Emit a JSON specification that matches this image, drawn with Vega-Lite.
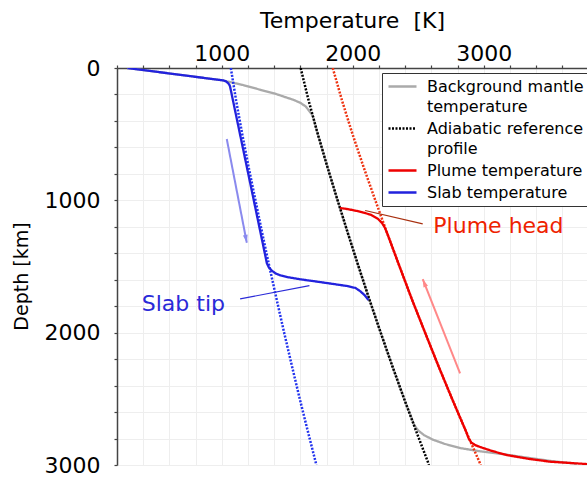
{
  "$schema": "https://vega.github.io/schema/vega-lite/v6.json",
  "autosize": {"type": "none"},
  "padding": {"left": 117, "top": 68, "right": 0, "bottom": 12},
  "width": 470,
  "height": 397,
  "background": "white",
  "config": {
    "font": "DejaVu Sans",
    "view": {"stroke": null},
    "axis": {
      "domainColor": "#444444", "domainWidth": 1.5,
      "tickColor": "#444444", "tickWidth": 1.2, "tickSize": 3,
      "labelFont": "DejaVu Sans", "labelFontSize": 22, "labelColor": "black",
      "titleFont": "DejaVu Sans", "titleFontWeight": "normal", "titleColor": "black",
      "gridColor": "#eeeeee", "gridWidth": 1
    },
    "legend": {
      "orient": "none", "legendX": 265, "legendY": 5,
      "symbolType": "M-2,0L2,0", "symbolSize": 196, "symbolStrokeWidth": 2.5,
      "labelFont": "DejaVu Sans", "labelFontSize": 16, "labelColor": "black", "labelOffset": 16, "labelLimit": 400,
      "padding": 5, "rowPadding": 5, "symbolOffset": 7,
      "strokeColor": "#333333", "fillColor": "white", "cornerRadius": 0
    }
  },
  "encoding": {
    "x": {
      "field": "T", "type": "quantitative",
      "scale": {"domain": [200, 3788], "nice": false, "zero": false},
      "axis": {
        "orient": "top", "title": "Temperature \u00a0[K]", "titleFontSize": 22, "titlePadding": 10,
        "values": [200, 400, 600, 800, 1000, 1200, 1400, 1600, 1800, 2000, 2200, 2400, 2600, 2800, 3000, 3200, 3400, 3600],
        "format": "d", "labelExpr": "datum.value % 1000 == 0 ? datum.label : ''",
        "labelPadding": 0, "grid": true
      }
    },
    "y": {
      "field": "d", "type": "quantitative",
      "scale": {"domain": [0, 3000], "reverse": true, "nice": false, "zero": false},
      "axis": {
        "title": "Depth [km]", "titleFontSize": 19, "titlePadding": 13, "titleY": 208,
        "values": [0, 200, 400, 600, 800, 1000, 1200, 1400, 1600, 1800, 2000, 2200, 2400, 2600, 2800, 3000],
        "format": "d", "labelExpr": "datum.value % 1000 == 0 ? datum.label : ''",
        "labelPadding": 14, "grid": true
      }
    }
  },
  "layer": [
    {
      "data": {"values": [
        {"series": "Background mantle temperature", "T": 279, "d": 0},
        {"series": "Background mantle temperature", "T": 1012, "d": 94},
        {"series": "Background mantle temperature", "T": 1038, "d": 101},
        {"series": "Background mantle temperature", "T": 1160, "d": 128},
        {"series": "Background mantle temperature", "T": 1292, "d": 164},
        {"series": "Background mantle temperature", "T": 1400, "d": 192},
        {"series": "Background mantle temperature", "T": 1470, "d": 215},
        {"series": "Background mantle temperature", "T": 1540, "d": 238},
        {"series": "Background mantle temperature", "T": 1598, "d": 262},
        {"series": "Background mantle temperature", "T": 1640, "d": 290},
        {"series": "Background mantle temperature", "T": 1668, "d": 325},
        {"series": "Background mantle temperature", "T": 1694, "d": 360},
        {"series": "Background mantle temperature", "T": 1733, "d": 500},
        {"series": "Background mantle temperature", "T": 1807, "d": 750},
        {"series": "Background mantle temperature", "T": 1884, "d": 1000},
        {"series": "Background mantle temperature", "T": 1963, "d": 1250},
        {"series": "Background mantle temperature", "T": 2044, "d": 1500},
        {"series": "Background mantle temperature", "T": 2127, "d": 1750},
        {"series": "Background mantle temperature", "T": 2213, "d": 2000},
        {"series": "Background mantle temperature", "T": 2301, "d": 2250},
        {"series": "Background mantle temperature", "T": 2392, "d": 2500},
        {"series": "Background mantle temperature", "T": 2470, "d": 2700},
        {"series": "Background mantle temperature", "T": 2500, "d": 2740},
        {"series": "Background mantle temperature", "T": 2545, "d": 2775},
        {"series": "Background mantle temperature", "T": 2615, "d": 2810},
        {"series": "Background mantle temperature", "T": 2700, "d": 2840},
        {"series": "Background mantle temperature", "T": 2821, "d": 2872},
        {"series": "Background mantle temperature", "T": 2960, "d": 2895},
        {"series": "Background mantle temperature", "T": 3126, "d": 2915},
        {"series": "Background mantle temperature", "T": 3300, "d": 2940},
        {"series": "Background mantle temperature", "T": 3500, "d": 2968},
        {"series": "Background mantle temperature", "T": 3710, "d": 2991}
      ]},
      "mark": {"type": "line", "strokeWidth": 2.3, "clip": true},
      "encoding": {
        "order": {"field": "d", "type": "quantitative"},
        "color": {"field": "series", "type": "nominal",
          "scale": {"domain": ["Background mantle temperature", "Adiabatic reference profile", "Plume temperature", "Slab temperature"], "range": ["#aaaaaa", "#000000", "#ee0000", "#2222dd"]},
          "legend": {"title": null, "labelExpr": "datum.label == 'Background mantle temperature' ? ['Background mantle', 'temperature'] : datum.label == 'Adiabatic reference profile' ? ['Adiabatic reference', 'profile'] : datum.label", "encode": {"labels": {"update": {"lineHeight": {"value": 20}}}}}},
        "strokeDash": {"field": "series", "type": "nominal",
          "scale": {"domain": ["Background mantle temperature", "Adiabatic reference profile", "Plume temperature", "Slab temperature"], "range": [[1, 0], [2, 1.5], [1, 0], [1, 0]]},
          "legend": {"title": null, "labelExpr": "datum.label == 'Background mantle temperature' ? ['Background mantle', 'temperature'] : datum.label == 'Adiabatic reference profile' ? ['Adiabatic reference', 'profile'] : datum.label", "encode": {"labels": {"update": {"lineHeight": {"value": 20}}}}}}
      }
    },
    {
      "data": {"values": [
        {"series": "Adiabatic reference profile", "T": 1602, "d": 0},
        {"series": "Adiabatic reference profile", "T": 1664, "d": 250},
        {"series": "Adiabatic reference profile", "T": 1733, "d": 500},
        {"series": "Adiabatic reference profile", "T": 1807, "d": 750},
        {"series": "Adiabatic reference profile", "T": 1884, "d": 1000},
        {"series": "Adiabatic reference profile", "T": 1963, "d": 1250},
        {"series": "Adiabatic reference profile", "T": 2044, "d": 1500},
        {"series": "Adiabatic reference profile", "T": 2127, "d": 1750},
        {"series": "Adiabatic reference profile", "T": 2213, "d": 2000},
        {"series": "Adiabatic reference profile", "T": 2301, "d": 2250},
        {"series": "Adiabatic reference profile", "T": 2392, "d": 2500},
        {"series": "Adiabatic reference profile", "T": 2486, "d": 2750},
        {"series": "Adiabatic reference profile", "T": 2582, "d": 3000}
      ]},
      "mark": {"type": "line", "strokeWidth": 2.5, "strokeCap": "butt", "clip": true},
      "encoding": {
        "order": {"field": "d", "type": "quantitative"},
        "color": {"field": "series", "type": "nominal"},
        "strokeDash": {"field": "series", "type": "nominal"}
      }
    },
    {
      "data": {"values": [
        {"T": 1847, "d": 0}, {"T": 1919, "d": 250}, {"T": 1998, "d": 500}, {"T": 2083, "d": 750},
        {"T": 2172, "d": 1000}, {"T": 2263, "d": 1250}, {"T": 2357, "d": 1500}, {"T": 2452, "d": 1750},
        {"T": 2552, "d": 2000}, {"T": 2653, "d": 2250}, {"T": 2758, "d": 2500}, {"T": 2866, "d": 2750},
        {"T": 2977, "d": 3000}
      ]},
      "mark": {"type": "line", "strokeWidth": 2.5, "strokeDash": [2, 1.5], "color": "#ee3311", "clip": true},
      "encoding": {"order": {"field": "d", "type": "quantitative"}}
    },
    {
      "data": {"values": [
        {"T": 1069, "d": 0}, {"T": 1110, "d": 250}, {"T": 1156, "d": 500}, {"T": 1205, "d": 750},
        {"T": 1257, "d": 1000}, {"T": 1309, "d": 1250}, {"T": 1363, "d": 1500}, {"T": 1419, "d": 1750},
        {"T": 1476, "d": 2000}, {"T": 1535, "d": 2250}, {"T": 1595, "d": 2500}, {"T": 1658, "d": 2750},
        {"T": 1722, "d": 3000}
      ]},
      "mark": {"type": "line", "strokeWidth": 2.5, "strokeDash": [2, 1.5], "color": "#2233ee", "clip": true},
      "encoding": {"order": {"field": "d", "type": "quantitative"}}
    },
    {
      "data": {"values": [
        {"series": "Plume temperature", "T": 1903, "d": 1058},
        {"series": "Plume temperature", "T": 1960, "d": 1066},
        {"series": "Plume temperature", "T": 2020, "d": 1078},
        {"series": "Plume temperature", "T": 2080, "d": 1092},
        {"series": "Plume temperature", "T": 2140, "d": 1110},
        {"series": "Plume temperature", "T": 2190, "d": 1138},
        {"series": "Plume temperature", "T": 2222, "d": 1170},
        {"series": "Plume temperature", "T": 2244, "d": 1205},
        {"series": "Plume temperature", "T": 2263, "d": 1250},
        {"series": "Plume temperature", "T": 2357, "d": 1500},
        {"series": "Plume temperature", "T": 2452, "d": 1750},
        {"series": "Plume temperature", "T": 2552, "d": 2000},
        {"series": "Plume temperature", "T": 2653, "d": 2250},
        {"series": "Plume temperature", "T": 2758, "d": 2500},
        {"series": "Plume temperature", "T": 2866, "d": 2750},
        {"series": "Plume temperature", "T": 2885, "d": 2800},
        {"series": "Plume temperature", "T": 2905, "d": 2830},
        {"series": "Plume temperature", "T": 2935, "d": 2850},
        {"series": "Plume temperature", "T": 2972, "d": 2864},
        {"series": "Plume temperature", "T": 3060, "d": 2893},
        {"series": "Plume temperature", "T": 3176, "d": 2925},
        {"series": "Plume temperature", "T": 3340, "d": 2953},
        {"series": "Plume temperature", "T": 3506, "d": 2975},
        {"series": "Plume temperature", "T": 3789, "d": 2993},
        {"series": "Plume temperature", "T": 4000, "d": 3000}
      ]},
      "mark": {"type": "line", "strokeWidth": 2.3, "clip": true},
      "encoding": {
        "order": {"field": "d", "type": "quantitative"},
        "color": {"field": "series", "type": "nominal"},
        "strokeDash": {"field": "series", "type": "nominal"}
      }
    },
    {
      "data": {"values": [
        {"series": "Slab temperature", "T": 279, "d": 0},
        {"series": "Slab temperature", "T": 1012, "d": 94},
        {"series": "Slab temperature", "T": 1032, "d": 101},
        {"series": "Slab temperature", "T": 1047, "d": 113},
        {"series": "Slab temperature", "T": 1057, "d": 126},
        {"series": "Slab temperature", "T": 1063, "d": 139},
        {"series": "Slab temperature", "T": 1100, "d": 315},
        {"series": "Slab temperature", "T": 1200, "d": 790},
        {"series": "Slab temperature", "T": 1300, "d": 1265},
        {"series": "Slab temperature", "T": 1344, "d": 1475},
        {"series": "Slab temperature", "T": 1358, "d": 1505},
        {"series": "Slab temperature", "T": 1380, "d": 1530},
        {"series": "Slab temperature", "T": 1410, "d": 1552},
        {"series": "Slab temperature", "T": 1450, "d": 1568},
        {"series": "Slab temperature", "T": 1500, "d": 1580},
        {"series": "Slab temperature", "T": 1600, "d": 1597},
        {"series": "Slab temperature", "T": 1725, "d": 1614},
        {"series": "Slab temperature", "T": 1850, "d": 1632},
        {"series": "Slab temperature", "T": 1960, "d": 1648},
        {"series": "Slab temperature", "T": 2020, "d": 1662},
        {"series": "Slab temperature", "T": 2056, "d": 1686},
        {"series": "Slab temperature", "T": 2090, "d": 1716},
        {"series": "Slab temperature", "T": 2119, "d": 1753}
      ]},
      "mark": {"type": "line", "strokeWidth": 2.3, "clip": true},
      "encoding": {
        "order": {"field": "d", "type": "quantitative"},
        "color": {"field": "series", "type": "nominal"},
        "strokeDash": {"field": "series", "type": "nominal"}
      }
    },
    {
      "data": {"values": [{"T": 1038, "d": 537, "T2": 1191, "d2": 1321}]},
      "mark": {"type": "rule", "color": "#8a8aee", "strokeWidth": 2},
      "encoding": {"x2": {"field": "T2"}, "y2": {"field": "d2"}}
    },
    {
      "data": {"values": [{"T": 1191, "d": 1321}]},
      "mark": {"type": "point", "shape": "M0,0L-0.3,1L0.3,1Z", "filled": true, "opacity": 1, "size": 256, "angle": 169, "color": "#8a8aee"},
      "encoding": {}
    },
    {
      "data": {"values": [{"T": 2819, "d": 2307, "T2": 2534, "d2": 1596}]},
      "mark": {"type": "rule", "color": "#ff8888", "strokeWidth": 2},
      "encoding": {"x2": {"field": "T2"}, "y2": {"field": "d2"}}
    },
    {
      "data": {"values": [{"T": 2534, "d": 1596}]},
      "mark": {"type": "point", "shape": "M0,0L-0.3,1L0.3,1Z", "filled": true, "opacity": 1, "size": 256, "angle": 338, "color": "#ff8888"},
      "encoding": {}
    },
    {
      "data": {"values": [{"T": 2094, "d": 1077, "T2": 2534, "d2": 1178}]},
      "mark": {"type": "rule", "color": "#a83010", "strokeWidth": 1.2},
      "encoding": {"x2": {"field": "T2"}, "y2": {"field": "d2"}}
    },
    {
      "data": {"values": [{"T": 1140, "d": 1745, "T2": 1669, "d2": 1644}]},
      "mark": {"type": "rule", "color": "#2a2ad8", "strokeWidth": 1.2},
      "encoding": {"x2": {"field": "T2"}, "y2": {"field": "d2"}}
    },
    {
      "data": {"values": [{"label": "Plume head", "T": 2615, "d": 1248}]},
      "mark": {"type": "text", "align": "left", "baseline": "alphabetic", "fontSize": 22, "font": "DejaVu Sans", "color": "#ee2200"},
      "encoding": {"text": {"field": "label"}}
    },
    {
      "data": {"values": [{"label": "Slab tip", "T": 389, "d": 1833}]},
      "mark": {"type": "text", "align": "left", "baseline": "alphabetic", "fontSize": 22, "font": "DejaVu Sans", "color": "#2a2ad8"},
      "encoding": {"text": {"field": "label"}}
    }
  ]
}
